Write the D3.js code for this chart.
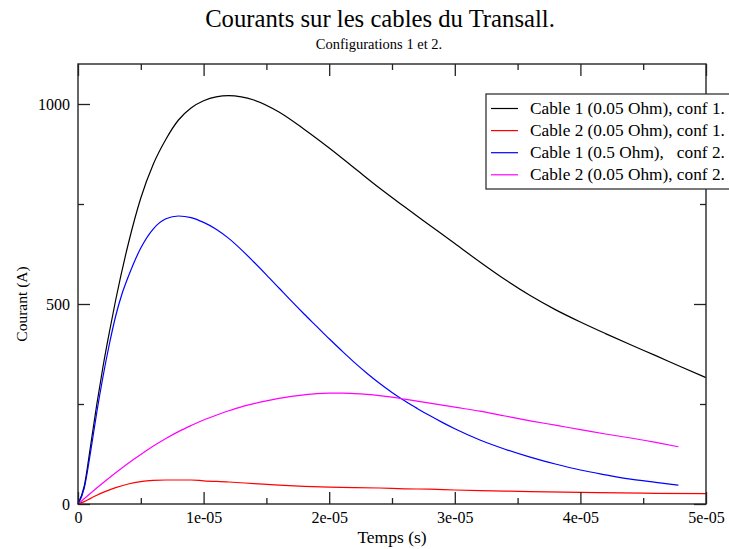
<!DOCTYPE html>
<html><head><meta charset="utf-8">
<script src="https://cdn.jsdelivr.net/npm/d3@7/dist/d3.min.js"></script>
<style>body{margin:0;background:#fff}svg text{font-family:"Liberation Serif","Times New Roman",serif;fill:#000}</style>
</head><body>
<script>
// Time in microseconds (converted to seconds below), current in A
const blackT = [0,0.5,1,1.5,2,2.5,3,4,5,6,7,8,9,10,11,12,13,14,16,18,20,22,24,26,28,30,32,34,36,38,40,42,44,46,48,50];
const blackI = [0,45,145,250,345,430,510,650,765,850,912,960,990,1008,1018,1021,1018,1010,980,937,890,840,790,743,697,651,605,561,521,486,455,426,398,371,343,316];
const redT = [0,0.5,1,1.5,2,3,4,5,6,7,8,9,10,12,14,16,18,20,22,24,26,28,30,33,36,40,45,50];
const redI = [0,6,14,22,29,41,50,56,59,60,60,60,58,55,51,47,44,42,41,40,38,37,35,33,31,29,27,26];
const blueT = [0,0.5,1,1.5,2,2.5,3,3.5,4,5,6,7,8,9,10,11,12,13,14,15,16,17,18,19,20,21,22,23,24,25,26,27,28,29,30,32,34,36,38,40,42,44,46,47.8];
const blueI = [0,40,130,230,320,400,470,525,568,640,688,713,720,716,704,687,664,636,605,573,540,507,475,444,413,383,354,327,302,279,258,239,221,204,188,160,137,117,100,85,73,62,54,47];
const magT = [0,1,2,3,4,5,6,7,8,9,10,11,12,13,14,15,16,17,18,19,20,21,22,23,24,25,26,27,28,29,30,32,34,36,38,40,42,44,46,47.8];
const magI = [0,27,53,78,102,124,145,164,181,196,210,222,233,243,251,258,264,269,273,276,277,277,276,274,271,267,262,257,252,247,242,232,220,208,197,186,175,165,154,143];
const seriesNames = ["Cable 1 (0.05 Ohm), conf 1.","Cable 2 (0.05 Ohm), conf 1.","Cable 1 (0.5 Ohm),   conf 2.","Cable 2 (0.05 Ohm), conf 2."];
const seriesColors = ["#000000","#ff0000","#0000ff","#ff00ff"];
const xTicks = [0,1e-5,2e-5,3e-5,4e-5,5e-5];
const xTickLabels = ["0","1e-05","2e-05","3e-05","4e-05","5e-05"];
const xMinor = [5e-6,1.5e-5,2.5e-5,3.5e-5,4.5e-5];
const yTicks = [0,500,1000];
const yMinor = [250,750];
const title = "Courants sur les cables du Transall.";
const subtitle = "Configurations 1 et 2.";
const xLabel = "Temps (s)";
const yLabel = "Courant (A)";

const W = 729, H = 549;
const m = {l:78, r:706, t:64, b:504};
const svg = d3.select("body").append("svg").attr("width",W).attr("height",H);
const x = d3.scaleLinear().domain([0,5e-5]).range([m.l,m.r]);
const y = d3.scaleLinear().domain([0,1100]).range([m.b,m.t]);

const toPts = (T,I) => T.map((t,i)=>[t*1e-6, I[i]]);
const series = [toPts(blackT,blackI), toPts(redT,redI), toPts(blueT,blueI), toPts(magT,magI)];
const line = d3.line().x(d=>x(d[0])).y(d=>y(d[1])).curve(d3.curveMonotoneX);

// title
svg.append("text").attr("x",380).attr("y",27).attr("text-anchor","middle").attr("font-size",24.7).text(title);
svg.append("text").attr("x",379).attr("y",49).attr("text-anchor","middle").attr("font-size",14.5).text(subtitle);

// data
const g = svg.append("g");
series.forEach((s,i)=>{
  g.append("path").attr("d",line(s)).attr("fill","none").attr("stroke",seriesColors[i]).attr("stroke-width",1.2);
});

// frame
svg.append("rect").attr("x",m.l).attr("y",m.t).attr("width",m.r-m.l).attr("height",m.b-m.t)
  .attr("fill","none").attr("stroke","#333").attr("stroke-width",1.5);

const axB = d3.axisBottom(x).tickValues(xTicks).tickFormat((d,i)=>xTickLabels[i]).tickSizeInner(-12).tickSizeOuter(0).tickPadding(8);
const axBm = d3.axisBottom(x).tickValues(xMinor).tickFormat("").tickSizeInner(-6).tickSizeOuter(0);
const axT = d3.axisTop(x).tickValues(xTicks).tickFormat("").tickSizeInner(-12).tickSizeOuter(0);
const axTm = d3.axisTop(x).tickValues(xMinor).tickFormat("").tickSizeInner(-6).tickSizeOuter(0);
const axL = d3.axisLeft(y).tickValues(yTicks).tickFormat(d3.format("d")).tickSizeInner(-12).tickSizeOuter(0).tickPadding(8);
const axLm = d3.axisLeft(y).tickValues(yMinor).tickFormat("").tickSizeInner(-6).tickSizeOuter(0);
const axR = d3.axisRight(y).tickValues(yTicks).tickFormat("").tickSizeInner(-12).tickSizeOuter(0);
const axRm = d3.axisRight(y).tickValues(yMinor).tickFormat("").tickSizeInner(-6).tickSizeOuter(0);
function drawAx(ax, tr){
  const a = svg.append("g").attr("transform",tr).call(ax);
  a.select(".domain").remove();
  a.selectAll("line").attr("stroke","#222").attr("stroke-width",1.3);
  a.selectAll("text").attr("font-size",16).attr("font-family","Liberation Serif, serif").attr("fill","#000");
  return a;
}
drawAx(axB,`translate(0,${m.b})`);
drawAx(axBm,`translate(0,${m.b})`);
drawAx(axT,`translate(0,${m.t})`);
drawAx(axTm,`translate(0,${m.t})`);
drawAx(axL,`translate(${m.l},0)`);
drawAx(axLm,`translate(${m.l},0)`);
drawAx(axR,`translate(${m.r},0)`);
drawAx(axRm,`translate(${m.r},0)`);

svg.append("text").attr("x",(m.l+m.r)/2).attr("y",543).attr("text-anchor","middle").attr("font-size",17.5).text(xLabel);
svg.append("text").attr("transform",`translate(27,${(m.t+m.b)/2+20}) rotate(-90)`).attr("text-anchor","middle").attr("font-size",15.5).text(yLabel);

// legend
const lg = svg.append("g");
lg.append("rect").attr("x",486).attr("y",94).attr("width",260).attr("height",95).attr("fill","#fff").attr("stroke","#333").attr("stroke-width",1.3);
seriesNames.forEach((n,i)=>{
  const yy = 108.5 + i*22.1;
  lg.append("line").attr("x1",491).attr("x2",518).attr("y1",yy).attr("y2",yy).attr("stroke",seriesColors[i]).attr("stroke-width",1.2);
  lg.append("text").attr("x",530).attr("y",yy+5.5).attr("font-size",17.3).style("white-space","pre").attr("xml:space","preserve").text(n);
});
</script>
</body></html>
